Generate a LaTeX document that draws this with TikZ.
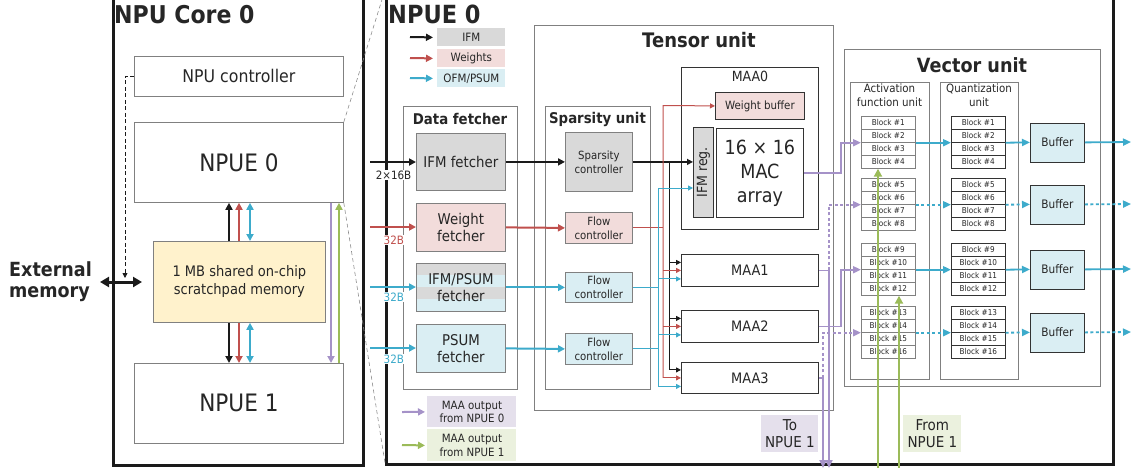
\documentclass[tikz,border=0pt]{standalone}
\usepackage{fontspec}
\setmainfont{DejaVu Sans}[FakeStretch=0.9]
\usetikzlibrary{arrows.meta,calc}
\definecolor{txt}{HTML}{262626}
\definecolor{bord}{HTML}{808080}
\definecolor{dk}{HTML}{333333}
\definecolor{gfill}{HTML}{D9D9D9}
\definecolor{pfill}{HTML}{F2DCDB}
\definecolor{bfill}{HTML}{DAEEF3}
\definecolor{yfill}{HTML}{FFF2CC}
\definecolor{vfill}{HTML}{E5E0EC}
\definecolor{lfill}{HTML}{EBF1DE}
\definecolor{cK}{HTML}{1A1A1A}
\definecolor{cR}{HTML}{C0504D}
\definecolor{cB}{HTML}{3DABCB}
\definecolor{cP}{HTML}{A592C8}
\definecolor{cG}{HTML}{9BBB59}
\definecolor{zgray}{HTML}{8C8C8C}
\newcommand\fsz[2]{\fontsize{#1}{#2}\selectfont}
\newcommand\mkbox[7][]{\node[box,minimum width={#5-#3},minimum height={#6-#4},#1] (#2) at (#3,#4) {#7};}
\begin{document}
\begin{tikzpicture}[x=1pt,y=-1pt,
 box/.style={draw=bord,line width=0.8pt,inner sep=0pt,anchor=north west,align=center,text=txt},
 lbl/.style={inner sep=0pt,text=txt},
 blk/.style={draw=bord,line width=0.7pt,inner sep=0pt,anchor=north west,minimum width=54,minimum height=13,font=\fsz{8.1}{9},text=txt},
 bigarr/.style={line width=2pt,-{Triangle[length=7pt,width=7pt]}},
 bigarrb/.style={line width=2pt,{Triangle[length=7pt,width=7pt]}-{Triangle[length=7pt,width=7pt]}},
 medarr/.style={line width=1.2pt,-{Triangle[length=6pt,width=6pt]}},
 smarr/.style={line width=1pt,-{Triangle[length=5pt,width=5pt]}},
 varr/.style={line width=1.8pt,-{Triangle[length=8pt,width=7pt]}},
 parr/.style={cP,line width=1.8pt,-{Triangle[length=8pt,width=7pt]}},
 garr/.style={cG,line width=2pt,-{Triangle[length=8pt,width=8pt]}},
 vdash/.style={dash pattern=on 3pt off 2.5pt},
]
\useasboundingbox (0,0) rectangle (1133,467);

% ---------------- NPU Core 0 ----------------
\mkbox[draw=cK,line width=2.5pt]{core}{112}{-10}{362}{464}{}
\node[lbl,anchor=base west,font=\bfseries\fsz{24.5}{28}] (coreT) at (114,23) {NPU Core 0};
\mkbox[font=\fsz{17.5}{20}]{ctrl}{134}{56}{343}{96}{NPU controller}
\mkbox[font=\fsz{24}{28}]{npuea}{134}{122}{343}{202}{NPUE 0}
\mkbox[fill=yfill,font=\fsz{14.5}{18}]{spm}{153}{241}{325}{322}{1 MB shared on-chip\\scratchpad memory}
\mkbox[font=\fsz{24}{28}]{npueb}{134}{363}{343}{443}{NPUE 1}
\node[lbl,anchor=west,align=left,font=\bfseries\fsz{19.5}{21}] (ext) at (9,282) {External\\memory};

\coordinate (em1) at (100,282);
\coordinate (em2) at (142,282);
\draw[cK,line width=3pt,{Triangle[length=9pt,width=10pt]}-{Triangle[length=9pt,width=10pt]}] (em1) -- (em2);
\coordinate (dc) at (125,278);
\draw[cK,line width=0.8pt,dash pattern=on 4pt off 2.5pt,-{Triangle[length=5pt,width=5pt]}] (ctrl.west) -| (dc);

\coordinate (vk) at (229,0);
\coordinate (vr) at (239,0);
\coordinate (vb) at (250,0);
\coordinate (vp) at (331,0);
\coordinate (vg) at (339,0);
\draw[bigarr,cK] (vk |- spm.north) -- (vk |- npuea.south);
\draw[bigarr,cR] (vr |- spm.north) -- (vr |- npuea.south);
\draw[bigarrb,cB] (vb |- spm.north) -- (vb |- npuea.south);
\draw[bigarr,cK] (vk |- spm.south) -- (vk |- npueb.north);
\draw[bigarr,cR] (vr |- spm.south) -- (vr |- npueb.north);
\draw[bigarrb,cB] (vb |- spm.south) -- (vb |- npueb.north);
\draw[bigarr,cP] (vp |- npuea.south) -- (vp |- npueb.north);
\draw[bigarr,cG] (vg |- npueb.north) -- (vg |- npuea.south);

% ---------------- NPUE 0 ----------------
\mkbox[draw=cK,line width=2.5pt]{npbig}{385}{-10}{1112}{463}{}
\coordinate (zt) at (385,-10);
\coordinate (zb) at (385,463);
\draw[zgray,line width=0.6pt,dash pattern=on 4pt off 3pt] (npuea.north east) -- (zt);
\draw[zgray,line width=0.6pt,dash pattern=on 4pt off 3pt] (npuea.south east) -- (zb);
\node[lbl,anchor=base west,font=\bfseries\fsz{25}{28}] (npT) at (388,23) {NPUE 0};

% legend top
\mkbox[draw=none,fill=gfill,font=\fsz{11.5}{13}]{lgk}{437}{28}{505}{46}{IFM}
\mkbox[draw=none,fill=pfill,font=\fsz{11.5}{13}]{lgr}{437}{49}{505}{67}{Weights}
\mkbox[draw=none,fill=bfill,font=\fsz{11.5}{13}]{lgb}{437}{69}{505}{87}{OFM/PSUM}
\coordinate (lk) at (410,37);
\coordinate (lr) at (410,58);
\coordinate (lb) at (410,78);
\draw[bigarr,cK] (lk) -- ([xshift=-4pt]lgk.west);
\draw[bigarr,cR] (lr) -- ([xshift=-4pt]lgr.west);
\draw[bigarr,cB] (lb) -- ([xshift=-4pt]lgb.west);

% data fetcher
\mkbox{df}{403}{106}{517}{389}{}
\node[lbl,anchor=base,font=\bfseries\fsz{14.8}{17}] (dfT) at (460,124) {Data fetcher};
\mkbox[fill=gfill,font=\fsz{14.8}{17}]{ifmf}{416}{133}{505}{190}{IFM fetcher}
\mkbox[fill=pfill,font=\fsz{14.8}{17}]{wf}{416}{203}{505}{251}{Weight\\fetcher}
\fill[gfill] (416,263) rectangle (505,275);
\fill[bfill] (416,275) rectangle (505,287);
\fill[gfill] (416,287) rectangle (505,299);
\fill[bfill] (416,299) rectangle (505,311);
\mkbox[font=\fsz{14.8}{17}]{ipf}{416}{263}{505}{311}{IFM/PSUM\\fetcher}
\mkbox[fill=bfill,font=\fsz{14.8}{17}]{pf}{416}{324}{505}{372}{PSUM\\fetcher}

\coordinate (i1) at (370,162);
\coordinate (i2) at (370,227);
\coordinate (i3) at (370,287);
\coordinate (i4) at (370,348);
\draw[bigarr,cK] (i1) -- (ifmf.west |- i1);
\draw[bigarr,cR] (i2) -- (wf.west |- i2);
\draw[bigarr,cB] (i3) -- (ipf.west |- i3);
\draw[bigarr,cB] (i4) -- (pf.west |- i4);
\node[lbl,anchor=base east,fill=white,inner sep=0.5pt,font=\fsz{11.5}{13}] (lab1) at (412,179) {2×16B};
\node[lbl,anchor=base west,fill=white,inner sep=0.5pt,text=cR,font=\fsz{11.5}{13}] (lab2) at (383,244) {32B};
\node[lbl,anchor=base west,fill=white,inner sep=0.5pt,text=cB,font=\fsz{11.5}{13}] (lab3) at (383,301) {32B};
\node[lbl,anchor=base west,fill=white,inner sep=0.5pt,text=cB,font=\fsz{11.5}{13}] (lab4) at (383,363) {32B};

% legend bottom
\mkbox[draw=none,fill=vfill,font=\fsz{11.4}{13.5}]{lgp}{427}{396}{516}{427}{MAA output\\from NPUE 0}
\mkbox[draw=none,fill=lfill,font=\fsz{11.4}{13.5}]{lgg}{427}{429}{516}{461}{MAA output\\from NPUE 1}
\coordinate (lp) at (402,412);
\coordinate (lg) at (402,445);
\draw[bigarr,cP] (lp) -- ([xshift=-2pt]lgp.west);
\draw[bigarr,cG] (lg) -- ([xshift=-2pt]lgg.west);

% tensor unit
\mkbox{tu}{534}{25}{833}{410}{}
\node[lbl,anchor=base,font=\bfseries\fsz{20}{24}] (tuT) at (699,47) {Tensor unit};
\mkbox{su}{545}{106}{650}{389}{}
\node[lbl,anchor=base,font=\bfseries\fsz{14.8}{17}] (suT) at (597.5,123) {Sparsity unit};
\mkbox[fill=gfill,font=\fsz{11.3}{14}]{sc}{565}{132}{632}{191}{Sparsity\\controller}
\mkbox[fill=pfill,font=\fsz{11.3}{14}]{fc1}{565}{212}{632}{243}{Flow\\controller}
\mkbox[fill=bfill,font=\fsz{11.3}{14}]{fc2}{565}{272}{632}{302}{Flow\\controller}
\mkbox[fill=bfill,font=\fsz{11.3}{14}]{fc3}{565}{333}{632}{364}{Flow\\controller}
\draw[bigarr,cK] (ifmf.east) -- (sc.west);
\draw[bigarr,cR] (wf.east) -- (fc1.west);
\draw[bigarr,cB] (ipf.east) -- (fc2.west);
\draw[bigarr,cB] (pf.east) -- (fc3.west);

\mkbox[draw=dk]{maa0}{681}{67}{818}{229}{}
\node[lbl,anchor=base,font=\fsz{14}{16}] (maa0T) at (750,81) {MAA0};
\mkbox[fill=pfill,draw=dk,font=\fsz{11.4}{13}]{wb}{715}{92}{804}{119}{Weight buffer}
\mkbox[fill=gfill,draw=dk]{ifr}{693}{127}{713}{217}{}
\node[lbl,rotate=90,font=\fsz{14}{16}] (ifrT) at (ifr.center) {IFM reg.};
\mkbox[draw=dk,font=\fsz{19.5}{24}]{mac}{716}{128}{803}{217}{16 × 16\\MAC\\array}
\mkbox[draw=dk,font=\fsz{14.4}{16}]{maa1}{681}{254}{818}{286}{MAA1}
\mkbox[draw=dk,font=\fsz{14.4}{16}]{maa2}{681}{310}{818}{342}{MAA2}
\mkbox[draw=dk,font=\fsz{14.4}{16}]{maa3}{681}{362}{818}{393}{MAA3}

\coordinate (kbus) at (669,162);
\coordinate (rbus) at (663,105.5);
\coordinate (bbus) at (658,188);
\foreach \i in {1,2,3}{
  \coordinate (mk\i) at ([yshift=8pt]maa\i.west);
  \coordinate (mr\i) at (maa\i.west);
  \coordinate (mc\i) at ([yshift=-8.5pt]maa\i.west);
}
\draw[medarr,cK] (sc.east) -- (ifr.west |- sc.east);
\draw[cK,line width=1pt] (kbus) -- (kbus |- mk3);
\draw[cR,line width=1pt] (fc1.east) -- (rbus |- fc1.east);
\draw[smarr,cR] (rbus |- mr3) -- (rbus) -- (wb.west);
\draw[cB,line width=1pt] (fc2.east) -- (bbus |- fc2.east);
\draw[cB,line width=1pt] (fc3.east) -- (bbus |- fc3.east);
\draw[smarr,cB] (bbus |- mc3) -- (bbus) -- (ifr.west |- bbus);
\foreach \i in {1,2,3}{
  \draw[smarr,cK] (kbus |- mk\i) -- (mk\i);
  \draw[smarr,cR] (rbus |- mr\i) -- (mr\i);
  \draw[smarr,cB] (bbus |- mc\i) -- (mc\i);
}

\mkbox[fill=vfill,draw=none,font=\fsz{15}{17}]{tonp}{761}{415}{818}{452}{To\\NPUE 1}

% vector unit
\mkbox{vu}{844}{49}{1100}{386}{}
\node[lbl,anchor=base,font=\bfseries\fsz{19.6}{24}] (vuT) at (972,72) {Vector unit};
\mkbox{afu}{850}{82}{929}{379}{}
\mkbox{qu}{940}{82}{1018}{379}{}
\node[lbl,anchor=north,align=center,font=\fsz{11.4}{13.7}] (afuT) at (889.5,84) {Activation\\function unit};
\node[lbl,anchor=north,align=center,font=\fsz{11.4}{13.7}] (quT) at (979,84) {Quantization\\unit};

\foreach \g/\top/\sty in {1/116/solid,2/178/vdash,3/243/solid,4/306/vdash}{
  \foreach \r in {1,...,4}{
    \pgfmathtruncatemacro\bn{(\g-1)*4+\r}
    \node[blk] (a\g-\r) at (861,{\top+(\r-1)*13}) {Block \#\bn};
    \node[blk,draw=dk] (q\g-\r) at (951,{\top+(\r-1)*13}) {Block \#\bn};
  }
  \pgfmathsetmacro\bt{\top+6.5}
  \pgfmathsetmacro\bb{\top+45.5}
  \mkbox[fill=bfill,draw=dk,font=\fsz{11.7}{13}]{buf\g}{1030}{\bt}{1084}{\bb}{Buffer}
  \coordinate (o\g) at (1131,{\top+26});
  \draw[varr,cB,\sty] (a\g-2.south east) -- (q\g-2.south west);
  \draw[varr,cB,\sty] (q\g-2.south east) -- (buf\g.west);
  \draw[varr,cB,\sty] (buf\g.east) -- (o\g);
}

% purple MAA outputs
\coordinate (pa) at (841,0);
\coordinate (pb) at (829,0);
\coordinate (pc) at (823,0);
\coordinate (bot) at (0,468);
\draw[parr] (mac.east) -- (mac.east -| pa) |- (a1-2.south west);
\draw[parr] (maa2.east) -- (maa2.east -| pa) |- (a3-2.south west);
\draw[parr,vdash] (maa1.east -| pb) |- (a2-2.south west);
\draw[parr,vdash] (maa3.east -| pc) |- (a4-2.south west);
\draw[parr] (maa1.east) -- (maa1.east -| pb) -- (pb |- bot);
\draw[parr] (maa3.east) -- (maa3.east -| pc) -- (pc |- bot);

% green inputs
\coordinate (ga) at (878,468);
\coordinate (gb) at (899,468);
\draw[garr] (ga) -- (ga |- a1-4.south);
\draw[garr] (gb) -- (gb |- a3-4.south);
\mkbox[fill=lfill,draw=none,font=\fsz{15}{17}]{frnp}{903}{415}{961}{452}{From\\NPUE 1}
\end{tikzpicture}
\end{document}
